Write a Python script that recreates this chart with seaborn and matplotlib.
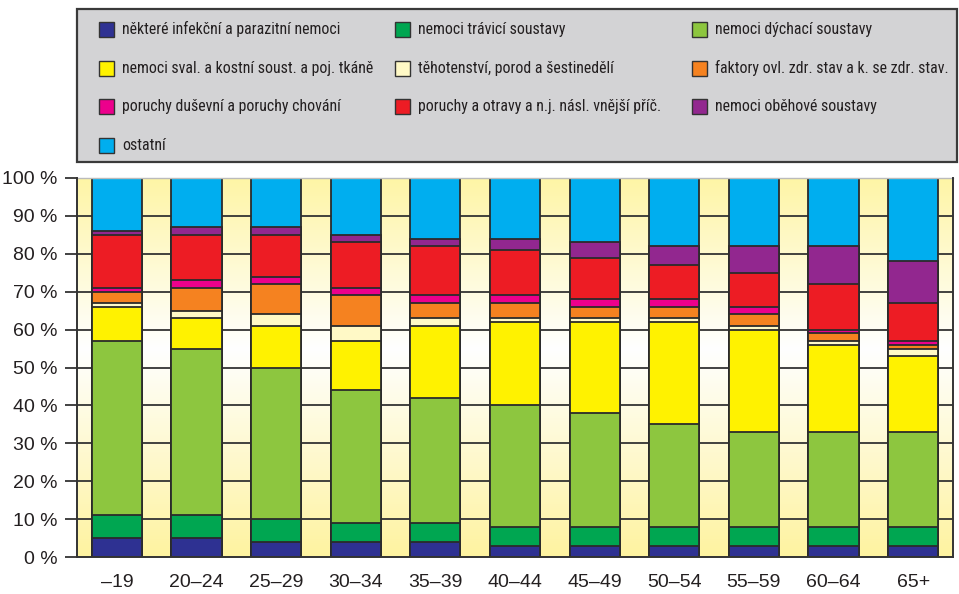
import numpy as np
import pandas as pd
import matplotlib
matplotlib.use("Agg")
import matplotlib.pyplot as plt
import seaborn as sns
from matplotlib import font_manager
from matplotlib.font_manager import FontProperties
from matplotlib.colors import LinearSegmentedColormap
from matplotlib.patches import Rectangle

categories = ["–19", "20–24", "25–29", "30–34", "35–39", "40–44",
              "45–49", "50–54", "55–59", "60–64", "65+"]

series_names = [
    "některé infekční a parazitní nemoci",
    "nemoci trávicí soustavy",
    "nemoci dýchací soustavy",
    "nemoci sval. a kostní soust. a poj. tkáně",
    "těhotenství, porod a šestinedělí",
    "faktory ovl. zdr. stav a k. se zdr. stav.",
    "poruchy duševní a poruchy chování",
    "poruchy a otravy a n.j. násl. vnější příč.",
    "nemoci oběhové soustavy",
    "ostatní",
]

infekcni    = [5, 5, 4, 4, 4, 3, 3, 3, 3, 3, 3]
travici     = [6, 6, 6, 5, 5, 5, 5, 5, 5, 5, 5]
dychaci     = [46, 44, 40, 35, 33, 32, 30, 27, 25, 25, 25]
sval        = [9, 8, 11, 13, 19, 22, 24, 27, 27, 23, 20]
tehotenstvi = [1, 2, 3, 4, 2, 1, 1, 1, 1, 1, 2]
faktory     = [3, 6, 8, 8, 4, 4, 3, 3, 3, 2, 1]
dusevni     = [1, 2, 2, 2, 2, 2, 2, 2, 2, 1, 1]
otravy      = [14, 12, 11, 12, 13, 12, 11, 9, 9, 12, 10]
obehove     = [1, 2, 2, 2, 2, 3, 4, 5, 7, 10, 11]
ostatni     = [14, 13, 13, 15, 16, 16, 17, 18, 18, 18, 22]

series_values = [infekcni, travici, dychaci, sval, tehotenstvi,
                 faktory, dusevni, otravy, obehove, ostatni]

colors = ["#2E3192", "#00A651", "#8DC63F", "#FFF200", "#FFF9C6",
          "#F58220", "#EC008C", "#ED1C24", "#92278F", "#00AEEF"]

ytick_vals = [0, 10, 20, 30, 40, 50, 60, 70, 80, 90, 100]
ytick_labels = [f"{v} %" for v in ytick_vals]

# ---------------------------------------------------------------
sns.set_theme(style="white")
plt.rcParams["font.family"] = ["Liberation Sans", "DejaVu Sans"]

W, H = 959, 594
fig = plt.figure(figsize=(W / 100, H / 100), dpi=100)
fig.patch.set_facecolor("white")

ax_l, ax_r, ax_t, ax_b = 77, 953, 178, 557
ax = fig.add_axes([ax_l / W, 1 - ax_b / H, (ax_r - ax_l) / W, (ax_b - ax_t) / H])

n = len(categories)
grad_cmap = LinearSegmentedColormap.from_list(
    "bg", [(0.0, "#FEF3A0"), (0.55, "#FFFFFF"), (1.0, "#FEF5A6")])
grad = np.linspace(0, 1, 256).reshape(-1, 1)
ax.imshow(grad, extent=(-0.5, n - 0.5, 0, 100), origin="lower",
          cmap=grad_cmap, aspect="auto", zorder=0)

for v in ytick_vals[1:-1]:
    ax.axhline(v, color="#333333", lw=1.3, zorder=0.5)

cum = np.cumsum(np.array(series_values, dtype=float), axis=0)
for i in range(len(series_values) - 1, -1, -1):
    df = pd.DataFrame({"cat": categories, "val": cum[i]})
    sns.barplot(data=df, x="cat", y="val", order=categories, color=colors[i],
                saturation=1, width=0.63, edgecolor="#2B2B2B", linewidth=1.3,
                ax=ax, zorder=2)

ax.set_xlim(-0.5, n - 0.5)
ax.set_ylim(0, 100)
ax.set_xlabel("")
ax.set_ylabel("")

ax.set_yticks(ytick_vals)
ax.set_yticklabels(ytick_labels, fontsize=14, color="#231F20")
ax.set_xticks(range(n))
ax.set_xticklabels(categories, fontsize=14, color="#231F20")
ax.set_xticks(np.arange(-0.5, n, 1.0), minor=True)
ax.tick_params(axis="x", which="major", length=0, pad=12)
ax.tick_params(axis="x", which="minor", length=9, width=1.3, color="#333333",
               direction="out")
ax.tick_params(axis="y", which="major", length=9, width=1.3, color="#333333",
               direction="out", pad=5, left=True)

for side in ["left", "bottom", "right"]:
    ax.spines[side].set_color("#333333")
    ax.spines[side].set_linewidth(1.4)
    ax.spines[side].set_zorder(3)
ax.spines["top"].set_color("#BBBBBB")
ax.spines["top"].set_linewidth(1.0)

# ---------------- legend (drawn by hand in a grey box) ----------------
lx0, lx1, ly0, ly1 = 77, 957, 9, 162
fig.patches.append(Rectangle((lx0 / W, 1 - ly1 / H), (lx1 - lx0) / W, (ly1 - ly0) / H,
                             transform=fig.transFigure, facecolor="#D3D3D5",
                             edgecolor="#3A3A3A", linewidth=1.6, zorder=0))

def pick_narrow_font():
    prefs = ["liberation sans narrow", "roboto condensed", "open sans condensed",
             "noto sans condensed", "dejavu sans condensed"]
    entries = font_manager.fontManager.ttflist
    for pref in prefs:
        for f in entries:
            nm = f.name.lower()
            st = str(f.stretch).lower()
            full = nm + (" condensed" if "condensed" in st else "")
            if (full.startswith(pref) or nm == pref) and f.style == "normal" \
                    and f.weight in (400, "normal", "regular"):
                return FontProperties(fname=f.fname)
    for f in entries:
        st = str(f.stretch).lower()
        if ("condensed" in st or "narrow" in f.name.lower()) and "extra" not in st \
                and "ultra" not in st and f.style == "normal":
            return FontProperties(fname=f.fname)
    return None

leg_font = pick_narrow_font()
if leg_font is None:
    leg_font = FontProperties(family="DejaVu Sans")

renderer = fig.canvas.get_renderer()

def width_at12(s):
    t = fig.text(0, 0, s, fontproperties=leg_font, fontsize=12)
    w = t.get_window_extent(renderer).width
    t.remove()
    return w

size_c1 = 12 * 262.0 / width_at12(series_names[3])
size_c2 = 12 * 262.0 / width_at12(series_names[7])
size_c3 = 12 * 233.0 / width_at12(series_names[5])
leg_size = max(8.5, min(13.5, size_c1, size_c2, size_c3))

col_x = [99, 395, 692]
row_y = [29.3, 68.1, 106.9, 145.7]
sq = 15
for i, name in enumerate(series_names):
    r, c = divmod(i, 3)
    x, y = col_x[c], row_y[r]
    fig.patches.append(Rectangle((x / W, 1 - (y + sq / 2) / H), sq / W, sq / H,
                                 transform=fig.transFigure, facecolor=colors[i],
                                 edgecolor="#333333", linewidth=1.0, zorder=2))
    fig.text((x + 23) / W, 1 - y / H, name, fontproperties=leg_font,
             fontsize=leg_size, color="#231F20", ha="left", va="center")

fig.savefig("out.png", dpi=100)
